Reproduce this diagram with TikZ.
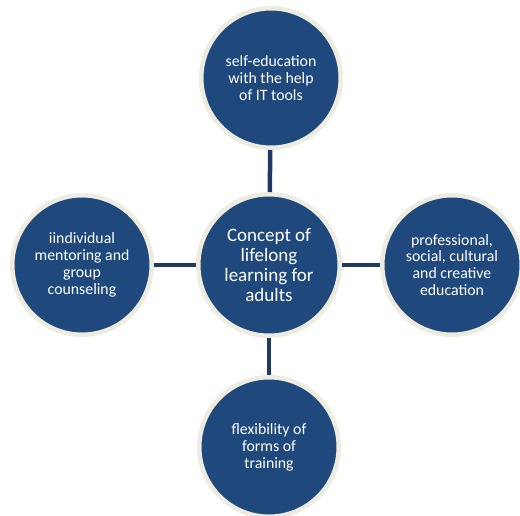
\documentclass[tikz,border=0pt]{standalone}
\usepackage{fontspec}
\setmainfont{Carlito}
\usepackage{tikz}
\usetikzlibrary{positioning}

\definecolor{circblue}{RGB}{31,73,125}
\definecolor{circrim}{RGB}{238,236,225}
\definecolor{linkblue}{RGB}{31,56,100}

\begin{document}
\begin{tikzpicture}[x=1pt, y=-1pt,
    topic/.style={circle, fill=circblue, draw=circrim, line width=4.5pt,
      minimum size=139.5pt, inner sep=0pt, align=center, text=white,
      font=\fontsize{15.8}{16.9}\selectfont},
    hub/.style={topic, minimum size=141.5pt,
      font=\fontsize{19}{20.2}\selectfont},
    link/.style={draw=linkblue, line width=4.5pt}]
    \useasboundingbox (0,0) rectangle (520,515);

    % circles
    \node[hub] (concept) at (269,265) {Concept of\\lifelong\\learning for\\adults};
    \node[topic] (selfedu) at (271,78) {self-education\\with the help\\of IT tools};
    \node[topic] (mentor) at (82,265) {iindividual\\mentoring and\\group\\counseling};
    \node[topic] (profedu) at (452,265) {professional,\\social, cultural\\and creative\\education};
    \node[topic] (flex) at (269,447) {flexibility of\\forms of\\training};

    % links to the hub
    \draw[link] (selfedu) -- (concept);
    \draw[link] (mentor) -- (concept);
    \draw[link] (profedu) -- (concept);
    \draw[link] (flex) -- (concept);
\end{tikzpicture}
\end{document}
